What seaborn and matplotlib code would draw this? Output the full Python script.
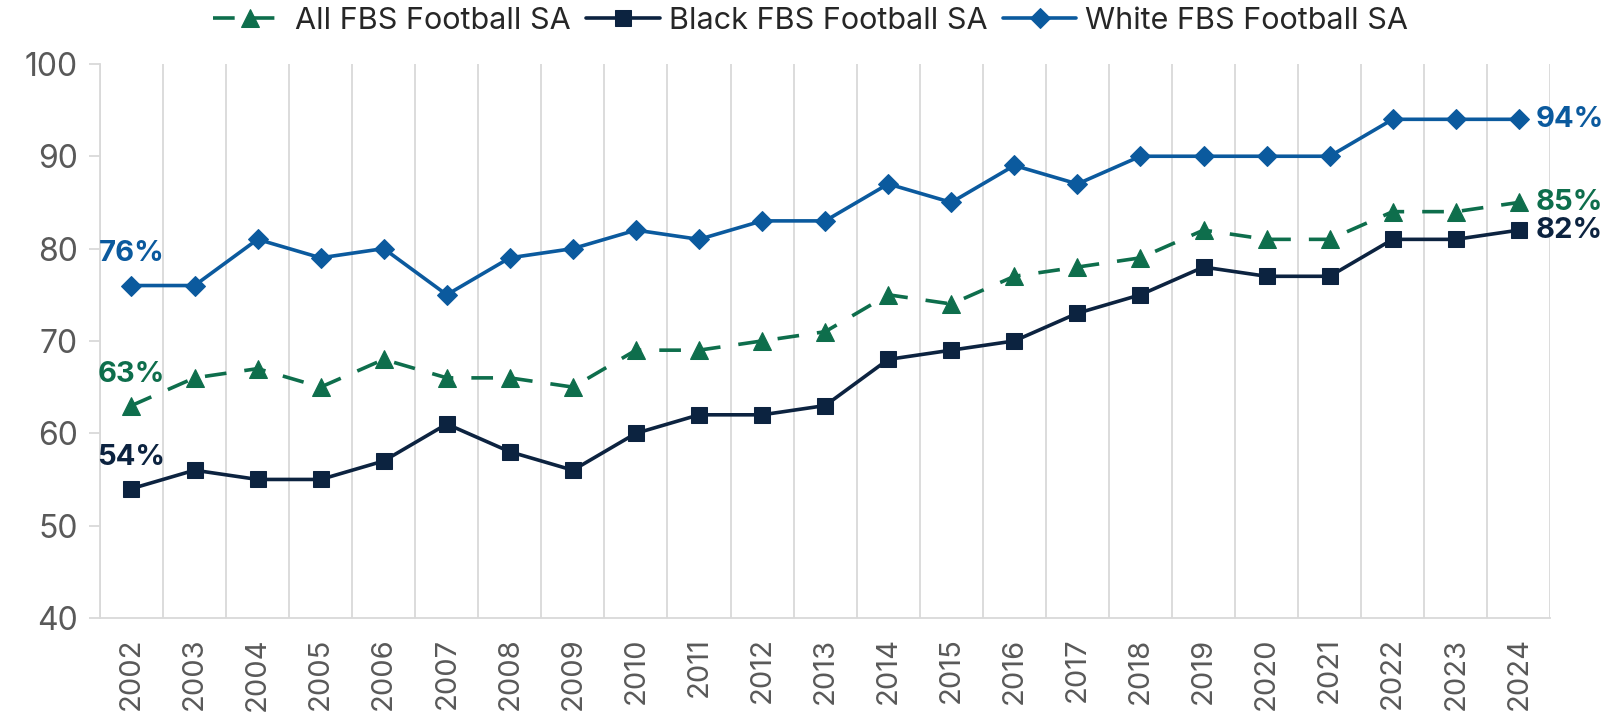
import pandas as pd
import matplotlib.pyplot as plt
import seaborn as sns

years = [str(y) for y in range(2002, 2025)]
all_sa = [63, 66, 67, 65, 68, 66, 66, 65, 69, 69, 70, 71, 75, 74, 77, 78, 79, 82, 81, 81, 84, 84, 85]
black_sa = [54, 56, 55, 55, 57, 61, 58, 56, 60, 62, 62, 63, 68, 69, 70, 73, 75, 78, 77, 77, 81, 81, 82]
white_sa = [76, 76, 81, 79, 80, 75, 79, 80, 82, 81, 83, 83, 87, 85, 89, 87, 90, 90, 90, 90, 94, 94, 94]

series_names = ["All FBS Football SA", "Black FBS Football SA", "White FBS Football SA"]
colors = ["#0E6E4C", "#0C2340", "#0B5A9E"]
markers = ["^", "s", "D"]
marker_sizes = [13, 12, 10]
y_ticks = [40, 50, 60, 70, 80, 90, 100]


def main():
    sns.set_theme(style="white")
    plt.rcParams["font.family"] = ["Inter", "DejaVu Sans"]

    fig = plt.figure(figsize=(16.17, 7.14), dpi=100)
    ax = fig.add_axes([0.0618, 0.1345, 0.897, 0.776])

    pos = list(range(len(years)))
    values = [all_sa, black_sa, white_sa]

    for name, vals, color, mk, ms in zip(series_names, values, colors, markers, marker_sizes):
        df = pd.DataFrame({"x": pos, "y": vals})
        sns.lineplot(
            data=df, x="x", y="y", ax=ax,
            color=color, marker=mk, markersize=ms,
            markeredgecolor=color, linewidth=2.6,
            linestyle="--" if name.startswith("All") else "-",
            label=name,
        )
    ax.lines[0].set_dashes([6, 5])

    # vertical gridlines between categories
    for b in range(len(years) + 1):
        ax.axvline(b - 0.5, color="#D9D9D9", linewidth=1.3, zorder=0)

    ax.set_xlim(-0.5, len(years) - 0.5)
    ax.set_ylim(40, 100)
    ax.set_xticks(pos)
    ax.set_xticklabels(years, rotation=90, fontsize=21, color="#595959")
    ax.set_yticks(y_ticks)
    ax.set_yticklabels([str(t) for t in y_ticks], fontsize=23, color="#595959")
    ax.tick_params(axis="y", left=True, length=8, width=1.3, color="#D9D9D9", pad=8)
    ax.tick_params(axis="x", bottom=False, pad=8)
    ax.set_xlabel("")
    ax.set_ylabel("")

    for side in ["top", "right"]:
        ax.spines[side].set_visible(False)
    for side in ["left", "bottom"]:
        ax.spines[side].set_color("#D9D9D9")
        ax.spines[side].set_linewidth(1.3)

    # start and end labels
    for vals, color in zip(values, colors):
        ax.annotate(f"{vals[0]}%", (0, vals[0]), xytext=(0, 13), textcoords="offset points",
                    ha="center", va="bottom", fontsize=21, fontweight="bold", color=color)
        ax.annotate(f"{vals[-1]}%", (len(years) - 1, vals[-1]), xytext=(12, 0), textcoords="offset points",
                    ha="left", va="center", fontsize=21, fontweight="bold", color=color)

    ax.legend(
        loc="lower center", bbox_to_anchor=(0.49, 1.03), ncol=3, frameon=False,
        fontsize=22, handlelength=2.4, columnspacing=0.5, handletextpad=0.3,
        borderaxespad=0.0,
    )

    fig.savefig("out.png", dpi=100)


if __name__ == "__main__":
    main()
